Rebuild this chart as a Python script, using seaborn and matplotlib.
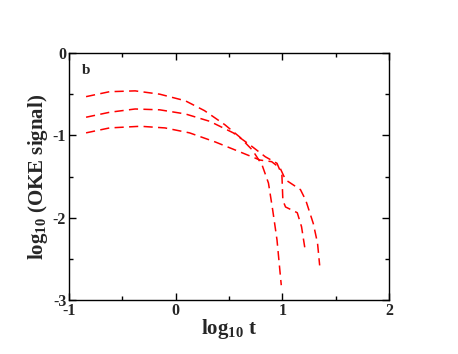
import numpy as np
import pandas as pd
import matplotlib
matplotlib.use("Agg")
import matplotlib.pyplot as plt
import seaborn as sns
from matplotlib.ticker import MultipleLocator

sns.set_style("ticks")
plt.rcParams['font.family'] = ['Liberation Serif', 'DejaVu Serif']
plt.rcParams['mathtext.fontset'] = 'custom'
plt.rcParams['mathtext.rm'] = 'Liberation Serif:bold'
plt.rcParams['mathtext.bf'] = 'Liberation Serif:bold'
plt.rcParams['axes.unicode_minus'] = False

# Data
x_a = [-0.84, -0.62, -0.38, -0.15, 0.09, 0.27, 0.46, 0.60, 0.72, 0.81, 0.87, 0.91, 0.95, 0.99]
y_a = [-0.53, -0.47, -0.46, -0.50, -0.58, -0.70, -0.87, -1.02, -1.18, -1.36, -1.58, -1.91, -2.27, -2.82]

x_b = [-0.84, -0.62, -0.38, -0.15, 0.09, 0.32, 0.54, 0.70, 0.84, 0.95, 0.996, 1.005, 1.03, 1.14, 1.18, 1.21]
y_b = [-0.78, -0.72, -0.68, -0.69, -0.74, -0.83, -0.97, -1.12, -1.26, -1.34, -1.48, -1.79, -1.87, -1.94, -2.11, -2.36]

x_c = [-0.84, -0.62, -0.33, -0.10, 0.13, 0.37, 0.60, 0.79, 0.90, 0.98, 1.03, 1.17, 1.22, 1.29, 1.33, 1.35]
y_c = [-0.97, -0.91, -0.89, -0.91, -0.97, -1.08, -1.20, -1.30, -1.32, -1.40, -1.54, -1.66, -1.79, -2.07, -2.31, -2.58]

series_names = ["a", "b", "c"]
xs = [x_a, x_b, x_c]
ys = [y_a, y_b, y_c]

rows = []
for name, xv, yv in zip(series_names, xs, ys):
    for i, (xx, yy) in enumerate(zip(xv, yv)):
        rows.append({"series": name, "order": i, "x": xx, "y": yy})
df = pd.DataFrame(rows)

fig = plt.figure(figsize=(4.58, 3.54), dpi=100)
ax = fig.add_axes([69/458, 54/354, 320/458, 247/354])

sns.lineplot(data=df, x="x", y="y", hue="series", units="series", estimator=None,
             sort=False, palette=["#ff0000"] * 3, legend=False, ax=ax,
             linewidth=1.1, dashes=False)
for line in ax.get_lines():
    line.set_linestyle((0, (6, 3.5)))

ax.set_xlim(-1, 2)
ax.set_ylim(-3, 0)
ax.xaxis.set_major_locator(MultipleLocator(1))
ax.xaxis.set_minor_locator(MultipleLocator(0.5))
ax.yaxis.set_major_locator(MultipleLocator(1))
ax.yaxis.set_minor_locator(MultipleLocator(0.5))
ax.tick_params(which='both', direction='in', top=True, right=True, width=1, color='black')
ax.tick_params(which='major', length=5, labelsize=11.5, pad=2)
ax.tick_params(which='minor', length=3)
for lab in ax.get_xticklabels() + ax.get_yticklabels():
    lab.set_fontweight('bold')
for sp in ax.spines.values():
    sp.set_linewidth(1.0)
    sp.set_color('black')

ax.set_xlabel(r"log$_{\mathbf{10}}$ t", fontsize=15, fontweight='bold', labelpad=-1)
ax.set_ylabel(r"log$_{\mathbf{10}}$ (OKE signal)", fontsize=15, fontweight='bold', labelpad=2)
ax.text(0.04, 0.93, "b", transform=ax.transAxes, fontsize=11, fontweight='bold', va='center')

fig.savefig("out.png", dpi=100)
